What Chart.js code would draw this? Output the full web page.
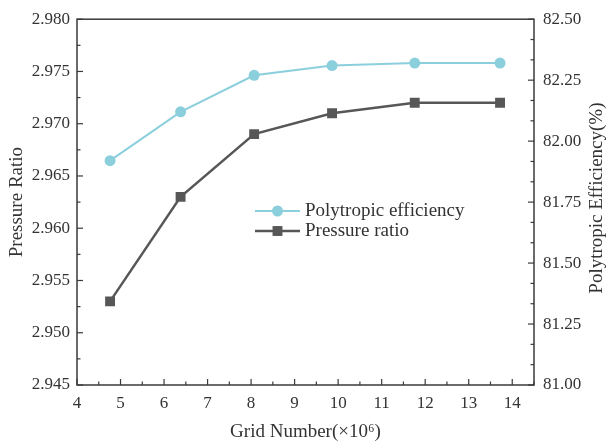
<!DOCTYPE html>
<html>
<head>
<meta charset="utf-8">
<script src="https://cdn.jsdelivr.net/npm/chart.js@4.4.1/dist/chart.umd.min.js"></script>
<style>
  html, body { margin: 0; padding: 0; background: #ffffff; }
  #chart { display: block; }
</style>
</head>
<body>
<canvas id="chart" width="607" height="445"></canvas>
<script>
// Grid independence study: pressure ratio and polytropic efficiency vs. grid size
const gridNumbers = [4.76, 6.38, 8.07, 9.86, 11.76, 13.72];      // ×10^6 cells
const pressureRatio = [2.953, 2.963, 2.969, 2.971, 2.972, 2.972];
const polytropicEfficiency = [81.92, 82.12, 82.27, 82.31, 82.32, 82.32]; // %

const xTickValues = [4, 5, 6, 7, 8, 9, 10, 11, 12, 13, 14];
const seriesLabels = ['Polytropic efficiency', 'Pressure ratio'];
const axisTitles = {
  x: 'Grid Number(×10⁶)',
  yLeft: 'Pressure Ratio',
  yRight: 'Polytropic Efficiency(%)'
};

const FONT = '"Liberation Serif", "Times New Roman", serif';
const INK = '#333333';
const CYAN = '#8ccfdc';
const GRAY = '#575757';

// Axis frame, inward major/minor ticks, rotated y titles and the line+marker legend
const framePlugin = {
  id: 'frame',
  afterDraw(chart) {
    const { ctx, chartArea: a, scales } = chart;
    ctx.save();
    ctx.strokeStyle = '#3a3a3a';
    ctx.lineWidth = 1.5;
    ctx.strokeRect(a.left, a.top, a.right - a.left, a.bottom - a.top);

    ctx.lineWidth = 1.2;
    const tick = (x1, y1, x2, y2) => { ctx.beginPath(); ctx.moveTo(x1, y1); ctx.lineTo(x2, y2); ctx.stroke(); };

    // x axis: majors every 1, minors at halves
    const xs = scales.x;
    for (let v = 4; v <= 14.5 + 1e-9; v += 0.5) {
      const px = xs.getPixelForValue(v);
      const len = Math.abs(v - Math.round(v)) < 1e-9 ? 6 : 3.5;
      tick(px, a.bottom, px, a.bottom - len);
    }
    // left y: majors every 0.005, one minor between
    const yl = scales.y;
    for (let i = 0; i <= 14; i++) {
      const v = 2.945 + i * 0.0025;
      const py = yl.getPixelForValue(v);
      const len = i % 2 === 0 ? 6 : 3.5;
      tick(a.left, py, a.left + len, py);
    }
    // right y: majors every 0.25, two minors between
    const yr = scales.y2;
    for (let i = 0; i <= 18; i++) {
      const v = 81 + i * (0.25 / 3);
      const py = yr.getPixelForValue(v);
      const len = i % 3 === 0 ? 6 : 3.5;
      tick(a.right, py, a.right - len, py);
    }

    // y-axis titles, both reading bottom-to-top
    ctx.fillStyle = INK;
    ctx.font = '19px ' + FONT;
    ctx.textAlign = 'center';
    ctx.textBaseline = 'middle';
    const midY = (a.top + a.bottom) / 2;
    ctx.save();
    ctx.translate(17, midY);
    ctx.rotate(-Math.PI / 2);
    ctx.fillText(axisTitles.yLeft, 0, 0);
    ctx.restore();
    ctx.save();
    ctx.translate(597, midY - 4);
    ctx.rotate(-Math.PI / 2);
    ctx.fillText(axisTitles.yRight, 0, 0);
    ctx.restore();

    // legend
    const lx = 255, lw = 45, rows = [211, 231];
    chart.data.datasets.forEach((ds, i) => {
      const y = rows[i];
      ctx.strokeStyle = ds.borderColor;
      ctx.lineWidth = ds.borderWidth;
      tick(lx, y, lx + lw, y);
      ctx.fillStyle = ds.pointBackgroundColor;
      Chart.helpers.drawPoint(ctx, {
        pointStyle: ds.pointStyle,
        radius: ds.pointRadius,
        borderWidth: 0
      }, lx + lw / 2, y);
      ctx.fillStyle = INK;
      ctx.textAlign = 'left';
      ctx.fillText(ds.label, lx + lw + 5, y);
    });
    ctx.restore();
  }
};

const toPoints = (ys) => gridNumbers.map((x, i) => ({ x, y: ys[i] }));

new Chart(document.getElementById('chart'), {
  type: 'line',
  data: {
    datasets: [
      {
        label: seriesLabels[0],
        data: toPoints(polytropicEfficiency),
        yAxisID: 'y2',
        borderColor: CYAN,
        backgroundColor: CYAN,
        pointBackgroundColor: CYAN,
        pointBorderColor: CYAN,
        borderWidth: 2,
        pointStyle: 'circle',
        pointRadius: 5.5,
        pointBorderWidth: 0,
        tension: 0
      },
      {
        label: seriesLabels[1],
        data: toPoints(pressureRatio),
        yAxisID: 'y',
        borderColor: GRAY,
        backgroundColor: GRAY,
        pointBackgroundColor: GRAY,
        pointBorderColor: GRAY,
        borderWidth: 2.5,
        pointStyle: 'rect',
        pointRadius: 7,
        pointBorderWidth: 0,
        tension: 0
      }
    ]
  },
  options: {
    responsive: false,
    animation: false,
    devicePixelRatio: 1,
    layout: { padding: { top: 16, left: 0, right: 0, bottom: 0 } },
    plugins: { legend: { display: false }, tooltip: { enabled: false } },
    scales: {
      x: {
        type: 'linear',
        position: 'bottom',
        min: 4,
        max: 14.5,
        grid: { display: false, drawTicks: false, tickLength: 0 },
        border: { display: false },
        afterBuildTicks: (s) => { s.ticks = xTickValues.map(v => ({ value: v })); },
        ticks: { color: INK, font: { family: FONT, size: 17 }, padding: 8, maxRotation: 0 },
        title: { display: true, text: axisTitles.x, color: INK, font: { family: FONT, size: 19 }, padding: { top: 0, bottom: 2 } },
        afterFit: (s) => { s.height = 60; }
      },
      y: {
        type: 'linear',
        position: 'left',
        min: 2.945,
        max: 2.980,
        grid: { display: false, drawTicks: false, tickLength: 0 },
        border: { display: false },
        ticks: { stepSize: 0.005, color: INK, font: { family: FONT, size: 17 }, padding: 7, callback: (v) => v.toFixed(3) },
        afterFit: (s) => { s.width = 77; }
      },
      y2: {
        type: 'linear',
        position: 'right',
        min: 81,
        max: 82.5,
        grid: { display: false, drawTicks: false, tickLength: 0 },
        border: { display: false },
        ticks: { stepSize: 0.25, color: INK, font: { family: FONT, size: 17 }, padding: 9, callback: (v) => v.toFixed(2) },
        afterFit: (s) => { s.width = 73; }
      }
    }
  },
  plugins: [framePlugin]
});
</script>
</body>
</html>
